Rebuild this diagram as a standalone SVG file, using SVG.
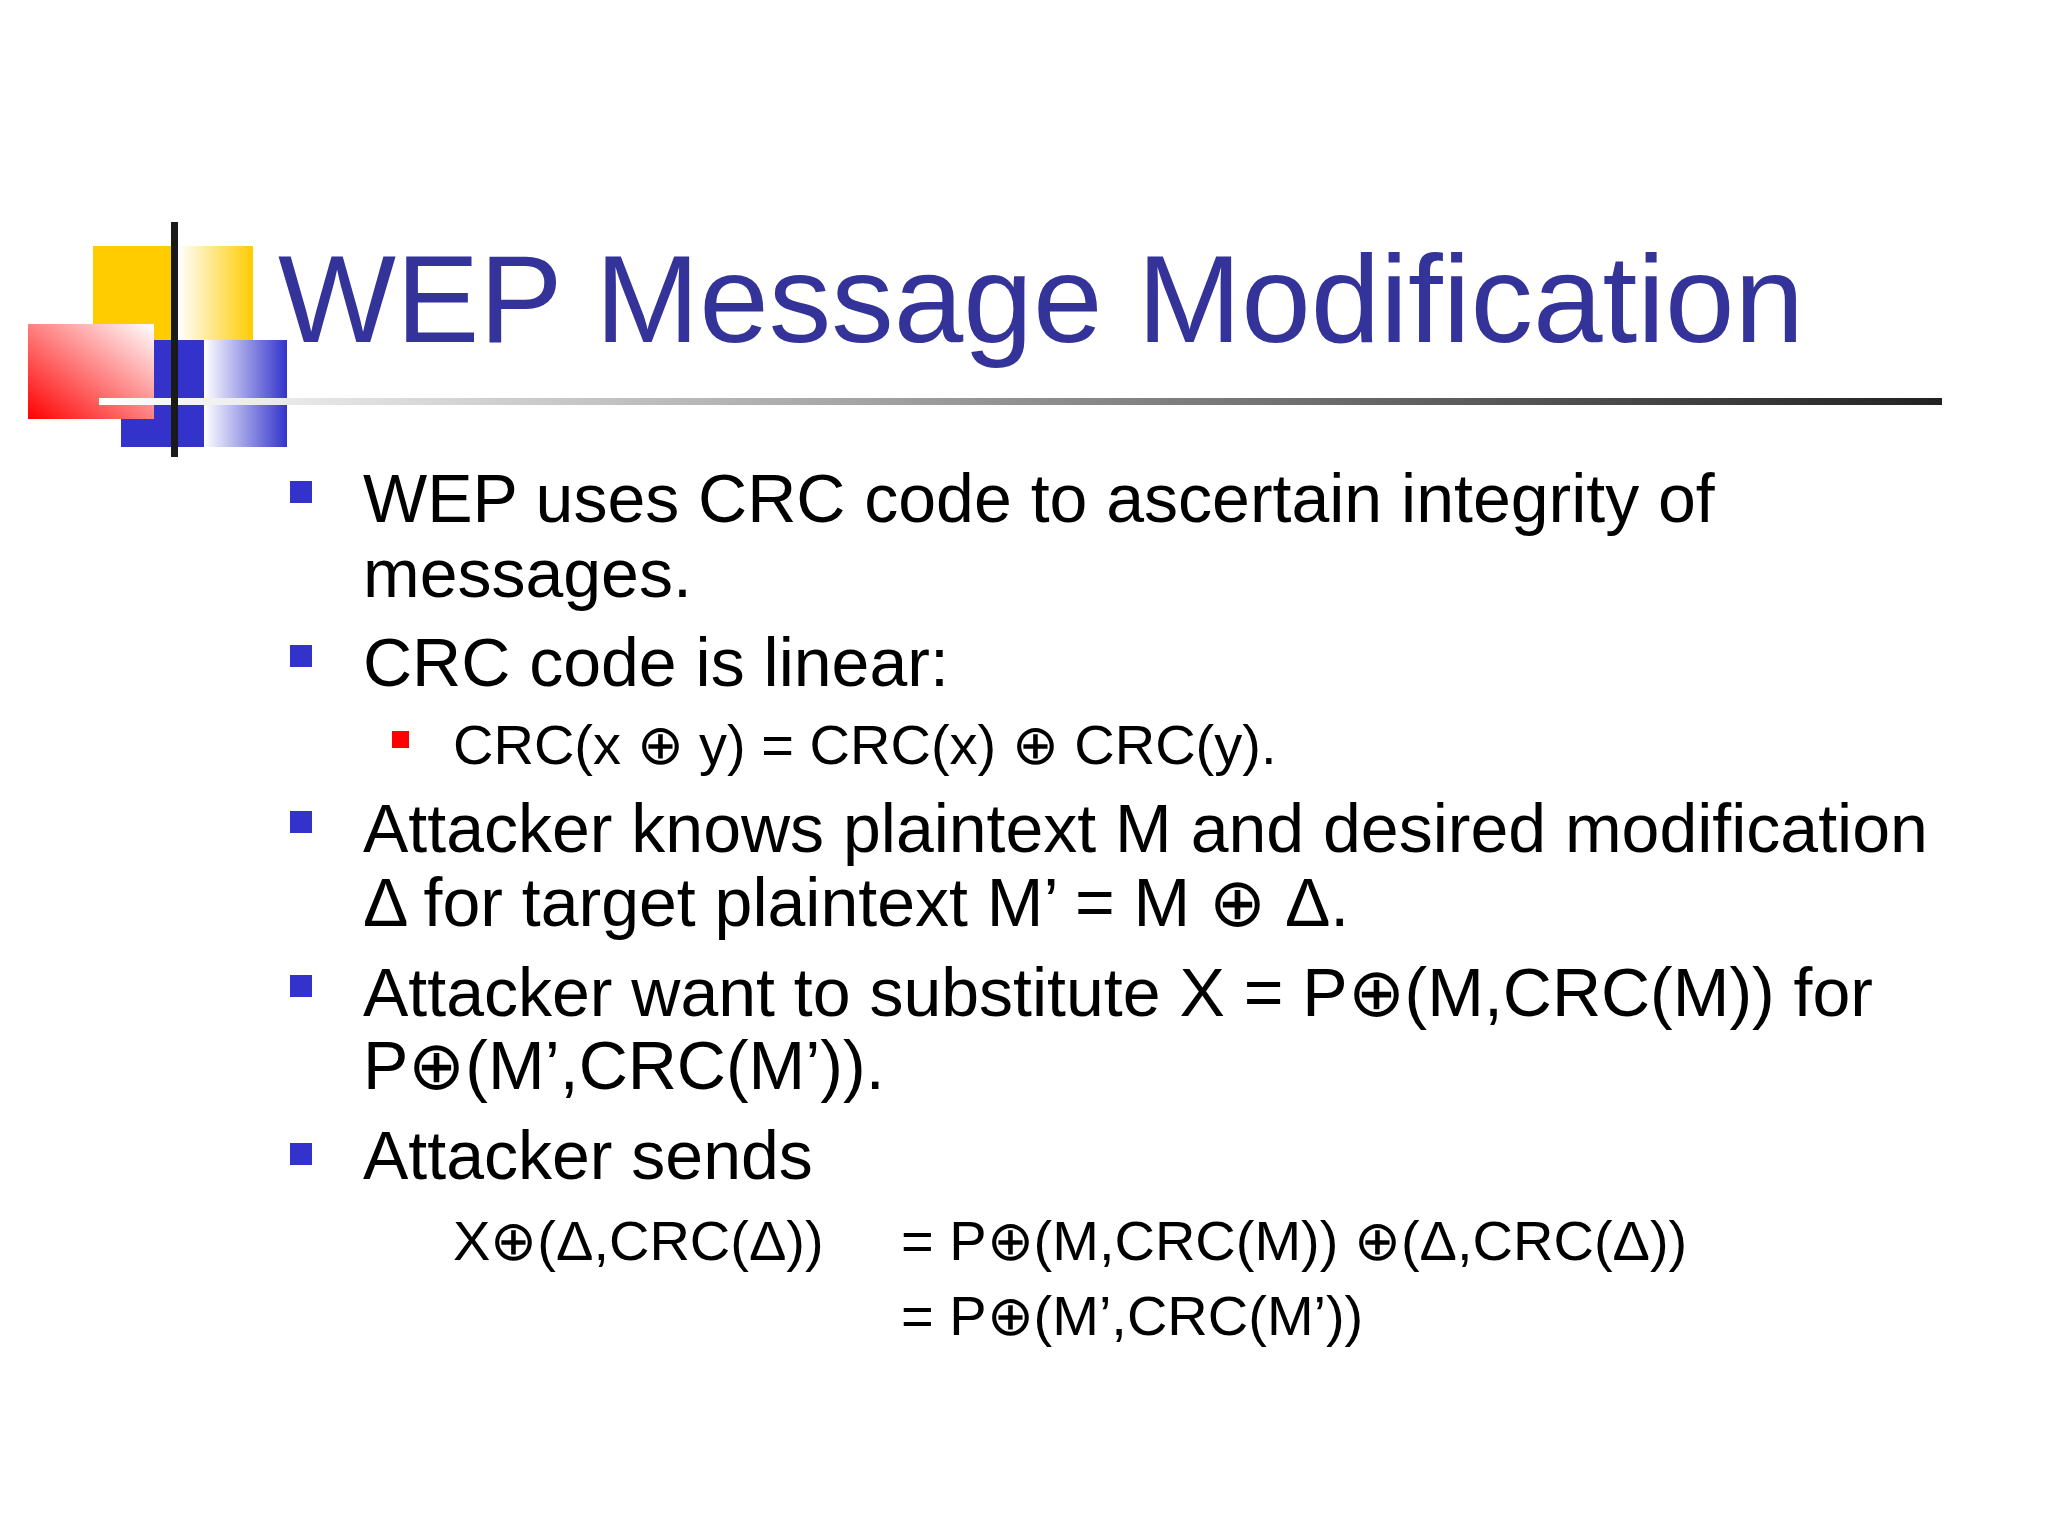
<svg xmlns="http://www.w3.org/2000/svg" width="2048" height="1536" viewBox="0 0 2048 1536">
<defs>
<linearGradient id="gy" x1="0" x2="1"><stop offset="0" stop-color="#fff"/><stop offset="1" stop-color="#ffcc00"/></linearGradient>
<linearGradient id="gb" x1="0" x2="1"><stop offset="0" stop-color="#fff"/><stop offset="1" stop-color="#3333cc"/></linearGradient>
<linearGradient id="gr" x1="1" y1="0" x2="0" y2="1"><stop offset="0" stop-color="#fff"/><stop offset="1" stop-color="#ff0000"/></linearGradient>
<linearGradient id="gl" x1="0" x2="1"><stop offset="0" stop-color="#fff"/><stop offset="1" stop-color="#222"/></linearGradient>
<style>
.t{font-family:"Liberation Sans",Arial,sans-serif;fill:#000}
.b{font-size:68px}.s{font-size:56px}
.bl{fill:#3333cc}
</style>
</defs>
<rect width="2048" height="1536" fill="#fff"/>
<g id="logo">
<rect x="93" y="246" width="85" height="94" fill="#ffcc00"/>
<rect x="178" y="246" width="75" height="94" fill="url(#gy)"/>
<rect x="121" y="340" width="83" height="107" fill="#3333cc"/>
<rect x="204" y="340" width="83" height="107" fill="url(#gb)"/>
<rect x="28" y="324" width="126" height="95" fill="url(#gr)"/>
<rect x="99" y="398" width="1843" height="7" fill="url(#gl)"/>
<rect x="171" y="222" width="7" height="235" fill="#1a1a1a"/>
</g>
<text x="278" y="342" font-family="Liberation Sans,Arial,sans-serif" font-size="125" fill="#333399">WEP Message Modification</text>
<g id="bullets">
<rect class="bl" x="290" y="481" width="22" height="22"/>
<rect class="bl" x="290" y="645" width="22" height="22"/>
<rect class="bl" x="290" y="811" width="22" height="22"/>
<rect class="bl" x="290" y="975" width="22" height="22"/>
<rect class="bl" x="290" y="1143" width="22" height="22"/>
<rect x="392" y="731" width="17" height="17" fill="#ff0000"/>
</g>
<g class="t b">
<text x="363" y="522">WEP uses CRC code to ascertain integrity of</text>
<text x="363" y="597">messages.</text>
<text x="363" y="686">CRC code is linear:</text>
<text x="363" y="852">Attacker knows plaintext M and desired modification</text>
<text x="363" y="926">Δ for target plaintext M’ = M ⊕ Δ.</text>
<text x="363" y="1016">Attacker want to substitute X = P⊕(M,CRC(M)) for</text>
<text x="363" y="1089">P⊕(M’,CRC(M’)).</text>
<text x="363" y="1179">Attacker sends</text>
</g>
<g class="t s">
<text x="453" y="764">CRC(x ⊕ y) = CRC(x) ⊕ CRC(y).</text>
<text x="453" y="1260">X⊕(Δ,CRC(Δ))</text>
<text x="901" y="1260">= P⊕(M,CRC(M)) ⊕(Δ,CRC(Δ))</text>
<text x="901" y="1335">= P⊕(M’,CRC(M’))</text>
</g>
</svg>
